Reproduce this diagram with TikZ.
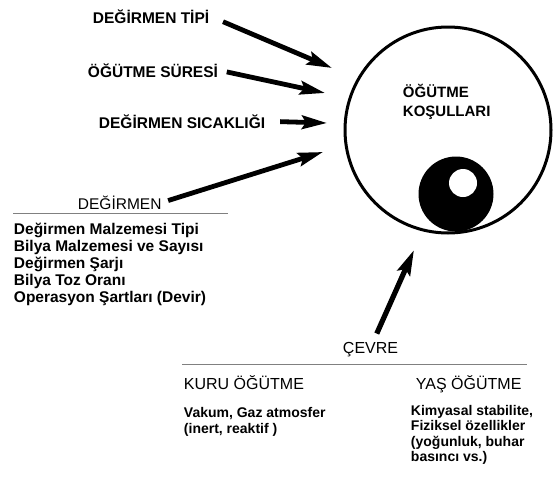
\documentclass[tikz,border=0pt]{standalone}
\usepackage{fontspec}
\setmainfont{Liberation Sans}
\usetikzlibrary{arrows.meta}

\begin{document}
\begin{tikzpicture}[x=1pt,y=1pt,yscale=-1,xscale=1,
		etiket/.style={anchor=base west, inner sep=0.75pt, font=\fontsize{15.5}{17}\selectfont\bfseries},
		baslik/.style={anchor=base west, inner sep=0.75pt, font=\fontsize{16}{18}\selectfont},
		liste/.style={anchor=base west, inner sep=0.75pt, align=left, font=\fontsize{15.5}{16.8}\selectfont\bfseries},
		kucukliste/.style={anchor=base west, inner sep=0.75pt, align=left, font=\fontsize{14}{15.5}\selectfont\bfseries},
		kalinok/.style={line width=4.8pt, -{Stealth[length=25pt,width=13.5pt,inset=4pt]}, shorten <=14pt},
		ince/.style={gray, line width=1pt}]
		% Set diagram size: 557 wide, 480 high
		\useasboundingbox (0,0) rectangle (557,480);

		% The big circle with the grinding ball inside
		\draw[line width=3pt] (448,130) circle (103);
		\fill[black] (456,194) circle (37.5);
		\fill[white] (463,183) circle (14);
		% (base of a two-line node = base of its last line)
		\node[etiket, align=left, font=\fontsize{15}{18.5}\selectfont\bfseries] (kosullar) at (402,116) {ÖĞÜTME\\KOŞULLARI};

		% Arrow ends in front of the circle
		\coordinate (ucTipi) at (332,68);
		\coordinate (ucSure) at (325,93);
		\coordinate (ucSicak) at (327,123);
		\coordinate (ucDegirmen) at (323,152);
		\coordinate (ucCevre) at (414,250);

		% The labels on the left
		\node[etiket] (tipi) at (92,23) {DEĞİRMEN TİPİ};
		\node[etiket] (sure) at (87,77) {ÖĞÜTME SÜRESİ};
		\node[etiket] (sicaklik) at (98,128) {DEĞİRMEN SICAKLIĞI};
		\node[baslik, font=\fontsize{15.5}{17}\selectfont] (degirmen) at (77,209) {DEĞİRMEN};

		% Line under "DEĞİRMEN" and its list
		\draw[ince] (13,213) -- (228,213);
		\node[liste] (degirmenListe) at (13,302) {Değirmen Malzemesi Tipi\\Bilya Malzemesi ve Sayısı\\Değirmen Şarjı\\Bilya Toz Oranı\\Operasyon Şartları (Devir)};

		% The thick arrows into the circle
		\draw[kalinok] (tipi.east) -- (ucTipi);
		\draw[kalinok, shorten <=8pt] (sure.east) -- (ucSure);
		\draw[kalinok] (sicaklik.east) -- (ucSicak);
		\draw[kalinok, shorten <=6pt] (degirmen.east) -- (ucDegirmen);

		% "ÇEVRE" below, with its arrow
		\node[baslik] (cevre) at (342,353) {ÇEVRE};
		\draw[kalinok, line width=5.2pt, shorten <=8pt] (cevre.70) -- (ucCevre);
		\draw[ince] (182,364) -- (527,364);

		% Dry and wet grinding
		\node[baslik] (kuru) at (183,389) {KURU ÖĞÜTME};
		\node[baslik] (yas) at (415,389) {YAŞ ÖĞÜTME};
		\node[kucukliste] (kuruListe) at (183,433) {Vakum, Gaz atmosfer\\(inert, reaktif )};
		\node[kucukliste] (yasListe) at (410,461.5) {Kimyasal stabilite,\\Fiziksel özellikler\\(yoğunluk, buhar\\basıncı vs.)};
	\end{tikzpicture}
\end{document}
